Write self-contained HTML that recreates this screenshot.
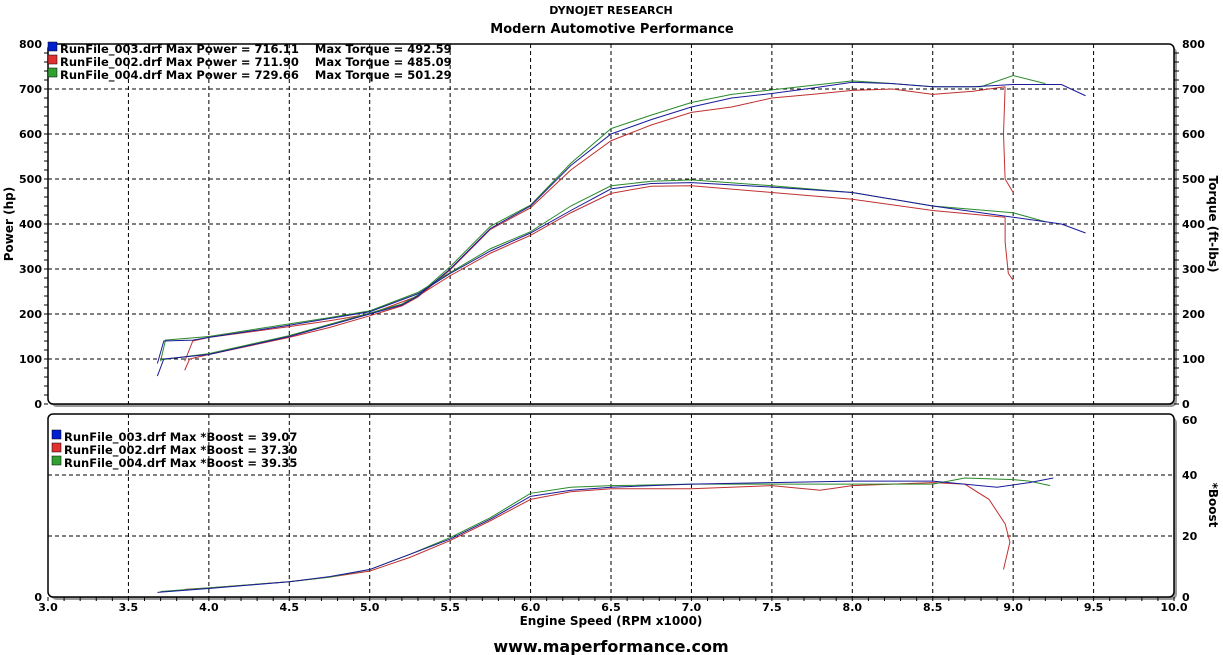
<!DOCTYPE html>
<html><head><meta charset="utf-8"><style>
body{margin:0;background:#fff;width:1223px;height:655px;overflow:hidden;font-family:Verdana,"DejaVu Sans",sans-serif}
svg{display:block}
text{font-family:Verdana,"DejaVu Sans",sans-serif;font-weight:bold;fill:#000}
</style></head><body>
<svg id="s" width="1223" height="655" xmlns="http://www.w3.org/2000/svg">
<text x="611" y="14" font-size="11" text-anchor="middle" font-weight="normal">DYNOJET RESEARCH</text>
<text x="612" y="33" font-size="13" text-anchor="middle">Modern Automotive Performance</text>
<rect x="51" y="47" width="1126" height="360" rx="6" fill="#999"/>
<rect x="48" y="44" width="1126" height="360" rx="5" fill="#fff" stroke="#000" stroke-width="1.5"/>
<rect x="51" y="417" width="1126" height="183" rx="6" fill="#999"/>
<rect x="48" y="414" width="1126" height="183" rx="5" fill="#fff" stroke="#000" stroke-width="1.5"/>
<g id="grid" stroke="#000" stroke-width="1" stroke-dasharray="4,3"></g>
<g id="lab"></g>
<g id="curves" fill="none"></g>
<rect x="48" y="42" width="9" height="9" fill="#0020d0" stroke="#000" stroke-width=".5"/>
<rect x="48" y="55" width="9" height="9" fill="#e03030" stroke="#000" stroke-width=".5"/>
<rect x="48" y="68" width="9" height="9" fill="#30a030" stroke="#000" stroke-width="0.5"/>
<text x="60" y="53" font-size="11.5" xml:space="preserve">RunFile_003.drf Max Power = 716.11    Max Torque = 492.59</text>
<text x="60" y="66" font-size="11.5" xml:space="preserve">RunFile_002.drf Max Power = 711.90    Max Torque = 485.09</text>
<text x="60" y="79" font-size="11.5" xml:space="preserve">RunFile_004.drf Max Power = 729.66    Max Torque = 501.29</text>
<rect x="52" y="430" width="9" height="9" fill="#0020d0" stroke="#000" stroke-width=".5"/>
<rect x="52" y="443" width="9" height="9" fill="#e03030" stroke="#000" stroke-width=".5"/>
<rect x="52" y="456" width="9" height="9" fill="#30a030" stroke="#000" stroke-width=".5"/>
<text x="64" y="441" font-size="11.5">RunFile_003.drf Max *Boost = 39.07</text>
<text x="64" y="454" font-size="11.5">RunFile_002.drf Max *Boost = 37.30</text>
<text x="64" y="467" font-size="11.5">RunFile_004.drf Max *Boost = 39.35</text>
<text x="611" y="625" font-size="12" text-anchor="middle">Engine Speed (RPM x1000)</text>
<text x="611" y="652" font-size="16" text-anchor="middle">www.maperformance.com</text>
<text transform="translate(13,224) rotate(-90)" font-size="12" text-anchor="middle">Power (hp)</text>
<text transform="translate(1209,224) rotate(90)" font-size="12" text-anchor="middle">Torque (ft-lbs)</text>
<text transform="translate(1209,505) rotate(90)" font-size="12" text-anchor="middle">*Boost</text>
</svg>
<script>
const NS="http://www.w3.org/2000/svg";
const X=r=>48+(r-3)*160.86, YP=v=>404-v*0.45, YB=b=>597-b*3.05;
function el(p,t,a,txt){const e=document.createElementNS(NS,t);for(const k in a)e.setAttribute(k,a[k]);if(txt!=null)e.textContent=txt;document.getElementById(p).appendChild(e);}
for(let i=1;i<14;i++){const x=X(3+i*0.5);el('grid','line',{x1:x,x2:x,y1:44,y2:404});el('grid','line',{x1:x,x2:x,y1:414,y2:597});}
for(let v=100;v<=700;v+=100){const y=YP(v);el('grid','line',{x1:48,x2:1174,y1:y,y2:y});}
[20,40].forEach(b=>{const y=YB(b);el('grid','line',{x1:48,x2:1174,y1:y,y2:y});});
for(let v=0;v<=800;v+=100){const y=YP(v);el('lab','text',{x:42,y:y+4,'font-size':11,'text-anchor':'end'},v);el('lab','text',{x:1182,y:y+4,'font-size':11},v);
 if(v<800){for(let k=0;k<=4;k++){const yy=y-k*9;el('lab','line',{x1:44,x2:48,y1:yy,y2:yy,stroke:'#000'});el('lab','line',{x1:1174,x2:1179,y1:yy,y2:yy,stroke:'#000'});}}}
for(let b=0;b<=60;b+=20){const y=YB(b);el('lab','text',{x:1182,y:b==60?y+10:y+4,'font-size':11},b);el('lab','text',{x:42,y:y+4,'font-size':11,'text-anchor':'end'},b==0?'0':'');}
for(let i=0;i<=14;i++){const x=X(3+i*0.5);el('lab','text',{x:x,y:611,'font-size':11,'text-anchor':'middle'},(3+i*0.5).toFixed(1));}
for(let i=0;i<=70;i++){const x=X(3+i*0.1);el('lab','line',{x1:x,x2:x,y1:597,y2:601,stroke:'#000'});}
function pl(pts,f,c,w){el('curves','polyline',{points:pts.map(p=>X(p[0])+','+f(p[1])).join(' '),stroke:c,'stroke-width':w||1});}
const B='#1a1a9a',R='#c03030',G='#2a8a2a';
pl([[3.85,75],[3.88,100],[4,110],[4.5,148],[4.75,170],[5,196],[5.2,218],[5.3,238],[5.5,298],[5.75,388],[6,436],[6.25,520],[6.5,585],[6.75,620],[7,648],[7.25,660],[7.5,680],[7.75,688],[8,697],[8.25,700],[8.5,688],[8.75,695],[8.95,705]],YP,R);
pl([[8.95,705],[8.94,600],[8.95,500],[9,470]],YP,R);
pl([[3.85,95],[3.9,140],[4,148],[4.5,172],[4.75,185],[5,200],[5.3,240],[5.5,285],[5.75,335],[6,375],[6.25,425],[6.5,468],[6.75,484],[7,485],[7.5,470],[8,455],[8.5,430],[8.95,415]],YP,R);
pl([[8.95,415],[8.95,360],[8.97,290],[9,275]],YP,R);
pl([[3.7,98],[4,112],[4.5,152],[4.75,177],[5,202],[5.2,222],[5.3,242],[5.5,305],[5.75,395],[6,442],[6.25,535],[6.5,612],[6.75,642],[7,670],[7.25,688],[7.5,698],[7.75,708],[8,718],[8.25,712],[8.5,705],[8.8,705],[9,730],[9.2,712]],YP,G);
pl([[3.7,95],[3.73,142],[4,150],[4.5,178],[4.75,192],[5,207],[5.3,248],[5.5,292],[5.75,345],[6,383],[6.25,440],[6.5,485],[6.75,495],[7,498],[7.5,485],[8,470],[8.5,440],[9,425],[9.2,405]],YP,G);
pl([[3.68,62],[3.72,100],[4,110],[4.5,150],[4.75,175],[5,200],[5.2,220],[5.3,240],[5.5,300],[5.75,390],[6,440],[6.25,530],[6.5,600],[6.75,632],[7,660],[7.25,680],[7.5,690],[7.75,702],[8,715],[8.25,712],[8.5,705],[8.75,705],[9,710],[9.3,710],[9.45,685]],YP,B);
pl([[3.68,90],[3.72,140],[3.9,142],[4,148],[4.5,175],[4.75,190],[5,205],[5.3,245],[5.5,290],[5.75,340],[6,380],[6.25,430],[6.5,478],[6.75,490],[7,492],[7.5,482],[8,470],[8.5,440],[9,415],[9.3,400],[9.45,380]],YP,B);
pl([[3.85,2.5],[4,3],[4.5,5],[4.75,6.5],[5,8.5],[5.25,13],[5.5,18.5],[5.75,25],[6,32],[6.25,34.5],[6.5,35.5],[7,35.5],[7.5,36.5],[7.8,35],[8,36.5],[8.5,37.5],[8.7,37],[8.85,32],[8.95,24],[8.98,18],[8.94,9]],YB,R);
pl([[3.7,1.8],[4,3],[4.5,5],[4.75,6.5],[5,9],[5.25,14],[5.5,19.5],[5.75,26],[6,34],[6.25,36],[6.5,36.5],[7,37],[7.5,37],[8,37],[8.25,37],[8.5,37],[8.7,39],[9,38.5],[9.1,38],[9.23,36.5]],YB,G);
pl([[3.68,1.5],[4,2.8],[4.5,5],[4.75,6.7],[5,9],[5.25,14],[5.5,19],[5.75,25.5],[6,33],[6.25,35],[6.5,36],[7,37],[7.5,37.5],[8,38],[8.5,38],[8.9,36],[9.1,37.5],[9.25,39]],YB,B);
</script>
</body></html>
